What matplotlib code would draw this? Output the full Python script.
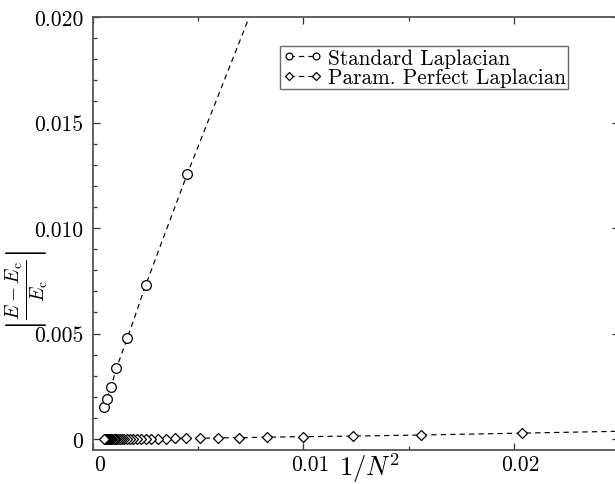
import numpy as np
import matplotlib
matplotlib.use('Agg')
import matplotlib.pyplot as plt
from matplotlib.transforms import ScaledTranslation

plt.rcParams['font.family'] = 'serif'
plt.rcParams['font.serif'] = ['cmr10']
plt.rcParams['mathtext.fontset'] = 'cm'
plt.rcParams['axes.formatter.use_mathtext'] = True

# standard Laplacian (last point lies above the visible range)
std_x = [0.00054, 0.00065, 0.00086, 0.00111, 0.00163, 0.00251, 0.00448, 0.0100]
std_y = [0.00150, 0.00190, 0.00248, 0.00335, 0.00477, 0.00731, 0.01256, 0.0265]

# parametrized perfect Laplacian (first point lies right of the visible range)
ppl_x = [0.0278, 0.0204, 0.0156, 0.01235, 0.0100, 0.00826, 0.00694, 0.00592,
         0.0051, 0.00444, 0.0039, 0.00346, 0.00309, 0.00277, 0.0025, 0.00227,
         0.00207, 0.00189, 0.00174, 0.0016, 0.00148, 0.00137, 0.00128, 0.00119,
         0.00111, 0.00104, 0.00098, 0.00092, 0.00087, 0.00082, 0.00077, 0.00073,
         0.00069, 0.00066, 0.00063, 0.00059, 0.00057, 0.00054]
ppl_y = [0.00042, 0.00028, 0.00019, 0.00014, 0.00011, 0.00009, 0.00006, 0.00006,
         0.00003, 0.00003, 0.00003, 0.00002, 0.00002, 0.00002, 0.00002, 0.00002,
         0.00001, 0.00001, 0.00001, 0.00001, 0.00001, 0.00001, 0.00001, 0.00001,
         0.00001, 0.00001, 0.00001, 0.00001, 0.00001, 0.00001, 0.00001, 0.00001,
         0.00001, 0.00001, 0.00001, 0.00001, 0.00001, 0.00001]

xticks = [0, 0.01, 0.02]
xtick_labels = ['0', '0.01', '0.02']
yticks = [0, 0.005, 0.010, 0.015, 0.020]
ytick_labels = ['0', '0.005', '0.010', '0.015', '0.020']

fig = plt.figure(figsize=(6.15, 4.85), dpi=100)
ax = fig.add_axes([93/615, 34/485, 526/615, 433/485])

ax.plot(std_x, std_y, color='black', lw=0.85, dashes=(4.5, 3.5), marker='o',
        ms=7, mfc='white', mec='black', mew=0.9, label='Standard Laplacian')
ax.plot(ppl_x, ppl_y, color='black', lw=0.85, dashes=(4.5, 3.5), marker='D',
        ms=5.3, mfc='white', mec='black', mew=0.9, label='Param. Perfect Laplacian')

ax.set_xlim(0, 0.025)
ax.set_ylim(-0.00052, 0.020)
ax.set_xticks(xticks)
ax.set_xticklabels(xtick_labels)
ax.set_yticks(yticks)
ax.set_yticklabels(ytick_labels)
ax.set_xticks([0.005, 0.015], minor=True)
ax.set_yticks(np.arange(0.001, 0.020, 0.001), minor=True)
ax.tick_params(which='both', direction='in', top=True, right=True, width=0.9,
               labelsize=15.5, color='#333333')
ax.tick_params(which='major', length=5)
ax.tick_params(which='minor', length=2.8)
ax.tick_params(axis='x', pad=3)
ax.tick_params(axis='y', pad=7)
for lab in ax.get_xticklabels():
    lab.set_transform(lab.get_transform() + ScaledTranslation(0.07, 0, fig.dpi_scale_trans))

for s in ax.spines.values():
    s.set_color('#555555')
    s.set_linewidth(1.3)

ax.text(0.525, -0.04, r'$1/N^2$', transform=ax.transAxes, fontsize=19,
        ha='center', va='center')
ax.text(-0.124, 0.372, r'$\left|\frac{E-E_\mathrm{c}}{E_\mathrm{c}}\right|$',
        transform=ax.transAxes, fontsize=20, rotation=90, ha='center', va='center')

leg = ax.legend(loc='upper left', bbox_to_anchor=(0.356, 0.933), borderaxespad=0,
                fontsize=15.3, frameon=True, fancybox=False, numpoints=2,
                handlelength=1.9, handletextpad=0.25, labelspacing=0.0,
                borderpad=0.1, markerscale=0.7)
leg.get_frame().set_edgecolor('#444444')
leg.get_frame().set_linewidth(1.0)

fig.savefig('out.png', dpi=100)
